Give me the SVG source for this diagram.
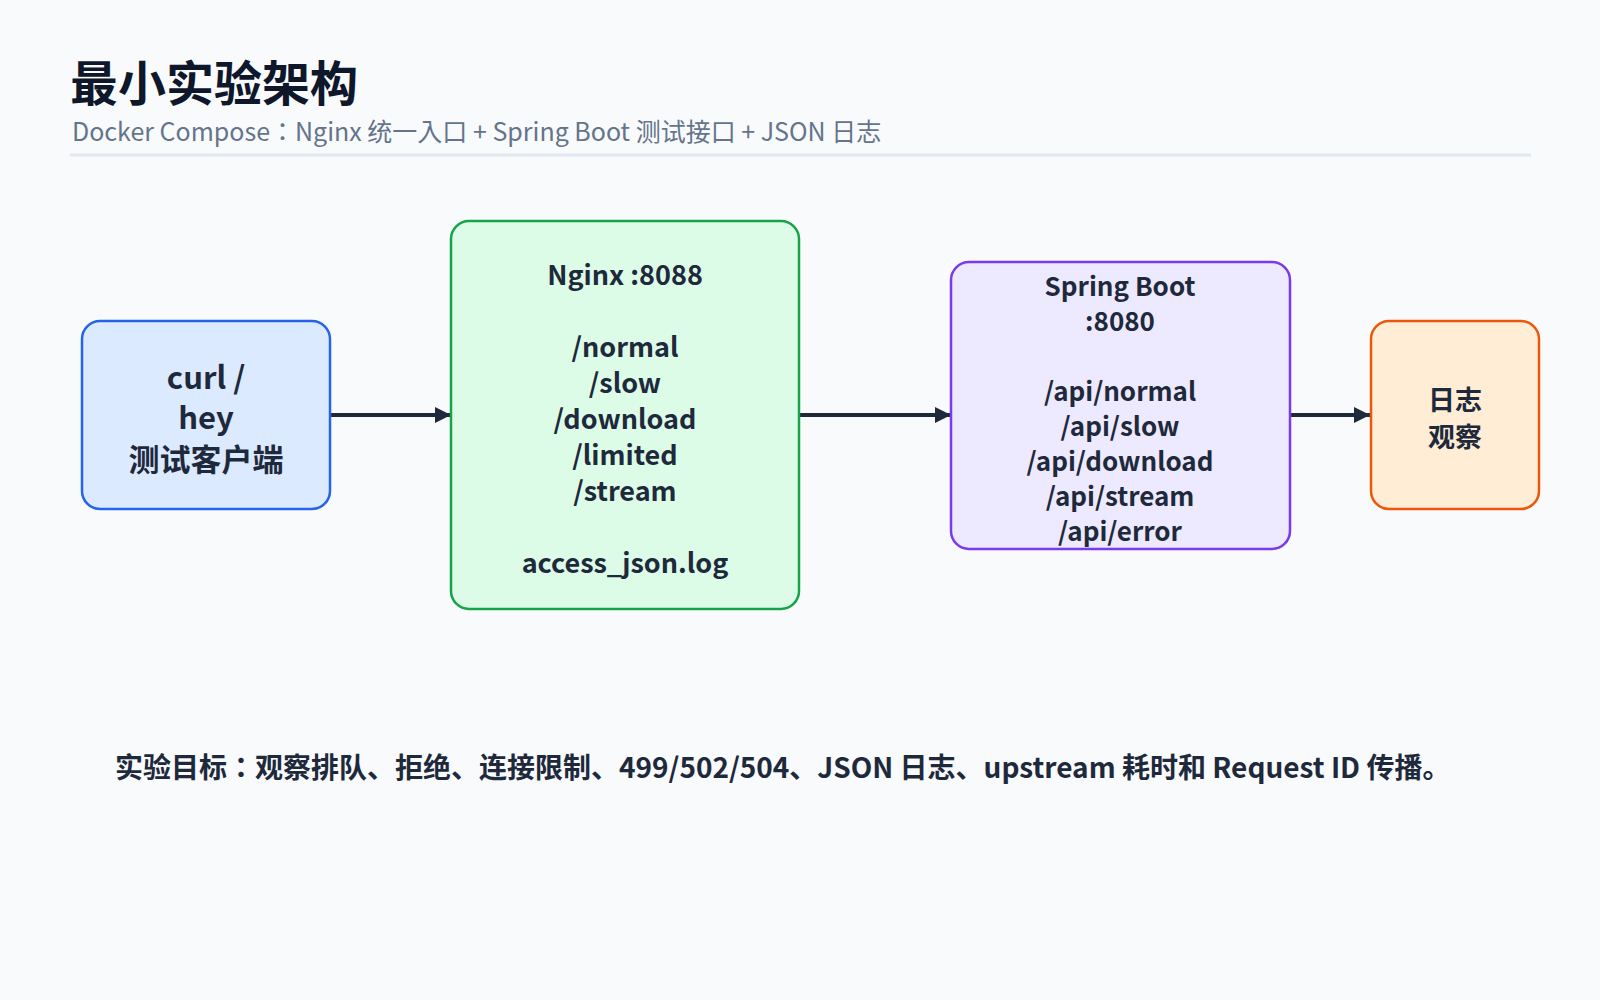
<svg xmlns="http://www.w3.org/2000/svg" width="1600" height="1000" viewBox="0 0 1600 1000">
<defs>
<style>
text{font-family:"Noto Sans CJK JP","Noto Sans CJK SC","Noto Sans",sans-serif;fill:#1e293b;}
.t{font-size:27px;font-weight:600;text-anchor:middle;}
.s{font-size:26px;}
.c{fill:none;stroke:#1e293b;stroke-width:4;}
</style>
<marker id="ah" viewBox="0 0 10 10" refX="10" refY="5" markerWidth="4" markerHeight="4.4" orient="auto" markerUnits="strokeWidth">
<path d="M0,0 L10,5 L0,10 z" fill="#1e293b"/>
</marker>
</defs>
<rect width="1600" height="1000" fill="#f8fafc"/>
<g id="header">
<text x="70" y="101" style="font-size:48px;font-weight:700;fill:#0f172a">最小实验架构</text>
<text x="72" y="141" style="font-size:25px;font-weight:400;fill:#64748b">Docker Compose：Nginx 统一入口 + Spring Boot 测试接口 + JSON 日志</text>
<line x1="70" y1="155" x2="1531" y2="155" stroke="#e2e8f0" stroke-width="3"/>
</g>
<g id="connectors">
<line class="c" x1="330" y1="415" x2="451" y2="415" marker-end="url(#ah)"/>
<line class="c" x1="799" y1="415" x2="951" y2="415" marker-end="url(#ah)"/>
<line class="c" x1="1290" y1="415" x2="1370" y2="415" marker-end="url(#ah)"/>
</g>
<g id="client">
<rect x="82" y="321" width="248" height="188" rx="18" fill="#dbeafe" stroke="#2563eb" stroke-width="2.5"/>
<text class="t" x="206" y="389" style="font-size:31px">curl /</text>
<text class="t" x="206" y="429" style="font-size:31px">hey</text>
<text class="t" x="206" y="471" style="font-size:31px">测试客户端</text>
</g>
<g id="nginx">
<rect x="451" y="221" width="348" height="388" rx="18" fill="#dcfce7" stroke="#16a34a" stroke-width="2.5"/>
<text class="t" x="625" y="285">Nginx :8088</text>
<text class="t" x="625" y="357">/normal</text>
<text class="t" x="625" y="393">/slow</text>
<text class="t" x="625" y="429">/download</text>
<text class="t" x="625" y="465">/limited</text>
<text class="t" x="625" y="501">/stream</text>
<text class="t" x="625" y="573">access_json.log</text>
</g>
<g id="spring">
<rect x="951" y="262" width="339" height="287" rx="18" fill="#ede9fe" stroke="#7c3aed" stroke-width="2.5"/>
<text class="t s" x="1120" y="296">Spring Boot</text>
<text class="t s" x="1120" y="331">:8080</text>
<text class="t s" x="1120" y="401">/api/normal</text>
<text class="t s" x="1120" y="436">/api/slow</text>
<text class="t s" x="1120" y="471">/api/download</text>
<text class="t s" x="1120" y="506">/api/stream</text>
<text class="t s" x="1120" y="541">/api/error</text>
</g>
<g id="logs">
<rect x="1371" y="321" width="168" height="188" rx="18" fill="#ffedd5" stroke="#ea580c" stroke-width="2.5"/>
<text class="t" x="1455" y="410">日志</text>
<text class="t" x="1455" y="447">观察</text>
</g>
<g id="footer">
<text x="115" y="778" style="font-size:28px;font-weight:700">实验目标：观察排队、拒绝、连接限制、499/502/504、JSON 日志、upstream 耗时和 Request ID 传播。</text>
</g>
</svg>
